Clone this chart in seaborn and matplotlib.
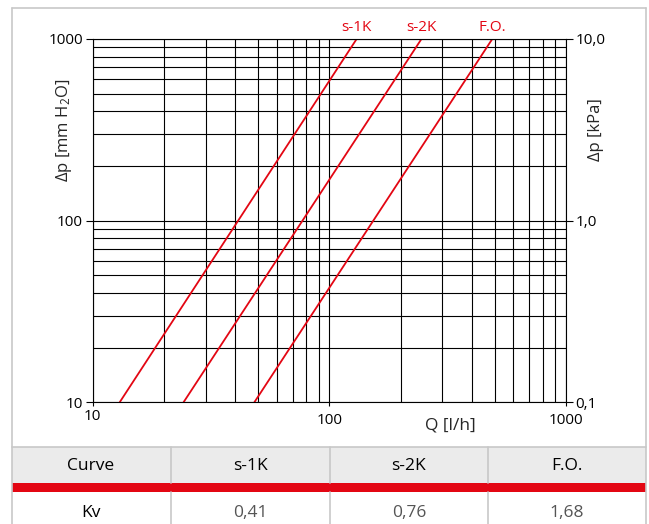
import pandas as pd
import matplotlib
matplotlib.use("Agg")
import matplotlib.pyplot as plt
import matplotlib.ticker as mticker
import matplotlib.transforms as mtrans
from matplotlib.lines import Line2D
from matplotlib.patches import Rectangle
import seaborn as sns

# curve end points (Q in l/h at dp = 10 and dp = 1000 mm H2O)
curves = ["s-1K", "s-2K", "F.O."]
q_start = [13.0, 24.2, 48.2]
q_end = [130.4, 245.0, 488.0]
dp_start = [10, 10, 10]
dp_end = [1000, 1000, 1000]
kv_values = ["0,41", "0,76", "1,68"]

RED = "#e30613"
GRID = "#c8c8c8"

sns.set_style("white")
plt.rcParams["font.family"] = ["Open Sans", "DejaVu Sans"]
plt.rcParams["mathtext.default"] = "regular"

df = pd.DataFrame({
    "curve": curves * 2,
    "Q": q_start + q_end,
    "dp": dp_start + dp_end,
})

W, H = 649, 524
fig = plt.figure(figsize=(W / 100, H / 100), dpi=100)


def fx(x):
    return x / W


def fy(y):
    return 1 - y / H


ax = fig.add_axes([fx(92.7), fy(402.3), fx(566) - fx(92.7), fy(39) - fy(402.3)])
sns.lineplot(data=df, x="Q", y="dp", units="curve", estimator=None,
             color=RED, lw=1.3, ax=ax)
ax.set_xscale("log")
ax.set_yscale("log")
ax.set_xlim(10, 1000)
ax.set_ylim(10, 1000)

sub = [2, 3, 4, 5, 6, 7, 8, 9]
ax.xaxis.set_major_locator(mticker.FixedLocator([10, 100, 1000]))
ax.yaxis.set_major_locator(mticker.FixedLocator([10, 100, 1000]))
ax.xaxis.set_minor_locator(mticker.LogLocator(base=10, subs=sub))
ax.yaxis.set_minor_locator(mticker.LogLocator(base=10, subs=sub))
ax.xaxis.set_major_formatter(mticker.FixedFormatter(["10", "100", "1000"]))
ax.yaxis.set_major_formatter(mticker.FixedFormatter(["10", "100", "1000"]))
ax.xaxis.set_minor_formatter(mticker.NullFormatter())
ax.yaxis.set_minor_formatter(mticker.NullFormatter())
ax.grid(which="both", color="black", lw=0.8)
ax.set_axisbelow(True)
for s in ax.spines.values():
    s.set_color("black")
    s.set_linewidth(0.8)
ax.tick_params(axis="y", which="major", left=True, length=5, width=0.8,
               pad=2, labelsize=11, colors="black")
ax.tick_params(axis="x", which="major", bottom=True, length=3, width=0.8,
               pad=5, labelsize=11, colors="black")
ax.tick_params(which="minor", length=0)
ax.set_xlabel("")
ax.set_ylabel("")

# the first x label sits a little higher in the original
fig.canvas.draw()
first = ax.get_xticklabels()[0]
first.set_transform(first.get_transform() + mtrans.ScaledTranslation(0, 4 / 100, fig.dpi_scale_trans))

ax2 = ax.twinx()
ax2.set_yscale("log")
ax2.set_ylim(0.1, 10)
ax2.yaxis.set_major_locator(mticker.FixedLocator([0.1, 1, 10]))
ax2.yaxis.set_major_formatter(mticker.FixedFormatter(["0,1", "1,0", "10,0"]))
ax2.yaxis.set_minor_locator(mticker.NullLocator())
ax2.tick_params(axis="y", right=True, length=5, width=0.8, pad=2,
                labelsize=11, colors="black")
for s in ax2.spines.values():
    s.set_visible(False)

# curve names above the top end of each line
for name, q in zip(curves, q_end):
    ax.text(q, 1000, name, color=RED, fontsize=11, ha="center", va="bottom",
            transform=ax.transData + mtrans.ScaledTranslation(0, 4 / 100, fig.dpi_scale_trans))

fig.text(fx(64), fy(130), "Δp [mm H$_2$O]", rotation=90, ha="center", va="center", fontsize=12)
fig.text(fx(596), fy(130), "Δp [kPa]", rotation=90, ha="center", va="center", fontsize=12)
fig.text(fx(450), fy(425), "Q [l/h]", ha="center", va="center", fontsize=12.5)

# outer frame
for xs, ys in [([12, 12], [8, 524]), ([12, 646], [8, 8]), ([646, 646], [8, 524])]:
    fig.add_artist(Line2D([fx(v) for v in xs], [fy(v) for v in ys], color=GRID, lw=1.2))

# table below the chart
fig.add_artist(Rectangle((fx(12), fy(483)), fx(646) - fx(12), fy(447) - fy(483),
                         facecolor="#ebebeb", edgecolor="none"))
fig.add_artist(Rectangle((fx(12), fy(492)), fx(646) - fx(12), fy(483) - fy(492),
                         facecolor=RED, edgecolor="none"))
fig.add_artist(Line2D([fx(12), fx(646)], [fy(447), fy(447)], color=GRID, lw=1.2))
for xv in [171, 330, 488]:
    fig.add_artist(Line2D([fx(xv), fx(xv)], [fy(447), fy(483)], color=GRID, lw=1.2))
    fig.add_artist(Line2D([fx(xv), fx(xv)], [fy(492), fy(524)], color=GRID, lw=1.2))

col_centers = [91, 250, 409, 567]
header = ["Curve"] + curves
row = ["Kv"] + kv_values
for i, (cx, h, r) in enumerate(zip(col_centers, header, row)):
    fig.text(fx(cx), fy(466), h, ha="center", va="center", fontsize=12.5, color="black")
    fig.text(fx(cx), fy(513), r, ha="center", va="center", fontsize=12.5,
             color="black" if i == 0 else "#555555")

fig.savefig("out.png", dpi=100)
